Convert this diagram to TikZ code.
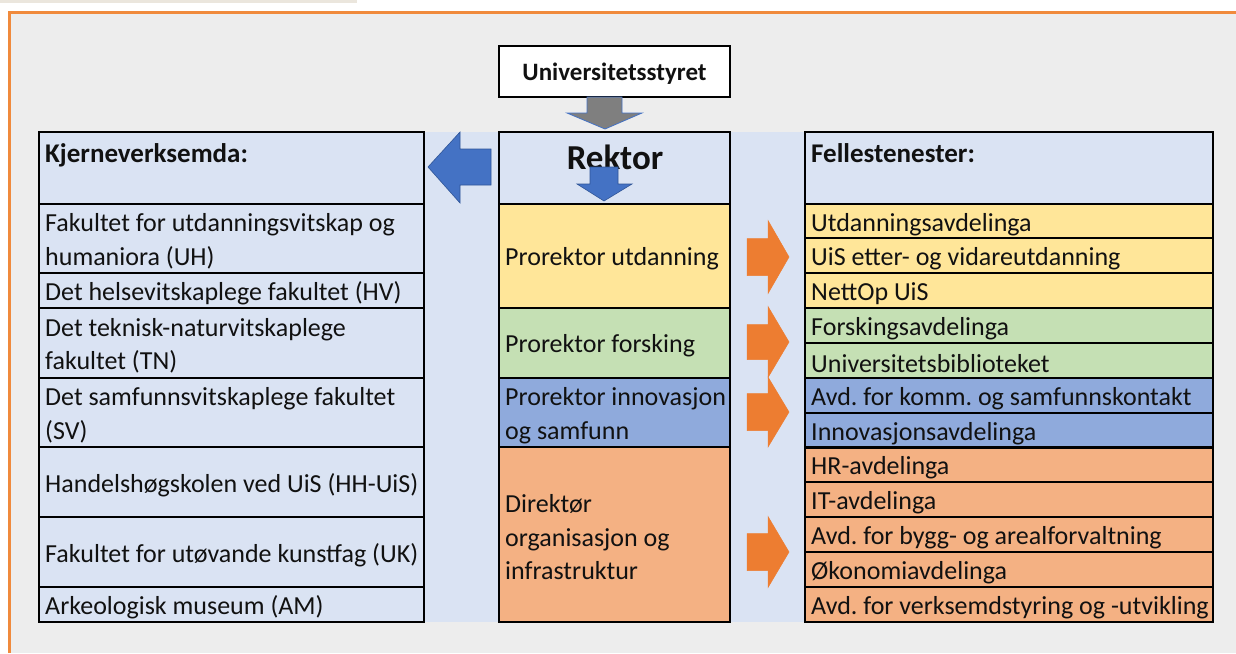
\documentclass[tikz,border=0pt]{standalone}
\usepackage{fontspec}
\setmainfont{Carlito}
\definecolor{bgray}{HTML}{EDEDED}
\definecolor{frameor}{HTML}{F08A3C}
\definecolor{topbeige}{HTML}{EBE6DD}
\definecolor{lblue}{HTML}{DAE3F3}
\definecolor{cyel}{HTML}{FFE699}
\definecolor{cgrn}{HTML}{C5E0B4}
\definecolor{cblu}{HTML}{8FAADC}
\definecolor{cora}{HTML}{F4B183}
\definecolor{aora}{HTML}{ED7D31}
\definecolor{ablu}{HTML}{4472C4}
\definecolor{abluedge}{HTML}{2F5597}
\definecolor{agry}{HTML}{7F7F7F}
\definecolor{txt}{HTML}{111111}
\begin{document}
\begin{tikzpicture}[x=1pt,y=-1pt,
  lbl/.style={anchor=west, inner xsep=6pt, inner ysep=0pt, align=left, text=txt, yshift=-3pt,
    font=\fontsize{26}{33.5}\selectfont,
    execute at begin node={\frenchspacing\spaceskip=0pt\xspaceskip=0pt\relax}},
  cellbase/.style={draw=black, rectangle, anchor=north west, outer sep=0pt, inner sep=0pt},
  tx/.style={label={[lbl]west:{#1}}},
  lcell/.style={cellbase, line width=2.4pt, fill=lblue, minimum width=385pt},
  mcell/.style={cellbase, line width=2.4pt, minimum width=231pt},
  rcell/.style={cellbase, line width=1.5pt, minimum width=408pt, minimum height=35pt},
  grp/.style={draw=black, line width=2.6pt},
  hdr/.style={anchor=base west, inner sep=0pt, text=txt, font=\bfseries\fontsize{27}{30}\selectfont},
  oarrow/.style={fill=aora, draw=aora, line width=0.5pt},
  barrow/.style={fill=ablu, draw=abluedge, line width=0.6pt},
  garrow/.style={fill=agry, draw=ablu, line width=0.8pt}
]
\useasboundingbox (0,0) rectangle (1236,653);
% page background
\fill[white] (0,0) rectangle (1236,653);
\fill[topbeige] (0,0) rectangle (357,3);
\fill[bgray] (9.5,12.5) rectangle (1236,653);
\draw[frameor, line width=2.5pt] (9.5,653) -- (9.5,12.5) -- (1236,12.5);
% light blue band
\fill[lblue] (39,132) rectangle (1213,622);

% top box
\node[cellbase, line width=1.6pt, fill=white, minimum width=231pt, minimum height=51pt, text depth=0pt,
      text=txt, font=\bfseries\fontsize{25}{28}\selectfont] (styret) at (499,46) {Universitetsstyret};

% left column
\node[lcell, minimum height=72pt] (kh) at (39,132) {};
\node[hdr] (kht) at (45,162) {Kjerneverksemda:};
\node[lcell, minimum height=69pt, tx={Fakultet for utdanningsvitskap og\\humaniora (UH)}] (uh) at (39,204) {};
\node[lcell, minimum height=35pt, tx={Det helsevitskaplege fakultet (HV)}] (hv) at (39,273) {};
\node[lcell, minimum height=70pt, tx={Det teknisk-naturvitskaplege\\fakultet (TN)}] (tn) at (39,308) {};
\node[lcell, minimum height=69pt, tx={Det samfunnsvitskaplege fakultet\\(SV)}] (sv) at (39,378) {};
\node[lcell, minimum height=70pt, tx={Handelshøgskolen ved UiS (HH-UiS)}] (hh) at (39,447) {};
\node[lcell, minimum height=70pt, tx={Fakultet for utøvande kunstfag (UK)}] (uk) at (39,517) {};
\node[lcell, minimum height=35pt, tx={Arkeologisk museum (AM)}] (am) at (39,587) {};

% middle column
\node[mcell, fill=lblue, minimum height=72pt] (rektor) at (499,132) {};
\node[anchor=base, inner sep=0pt, text=txt, font=\bfseries\fontsize{35}{38}\selectfont] (rektort) at (615,169) {Rektor};
\node[mcell, fill=cyel, minimum height=104pt, tx={Prorektor utdanning}] (putd) at (499,204) {};
\node[mcell, fill=cgrn, minimum height=70pt, tx={Prorektor forsking}] (pfor) at (499,308) {};
\node[mcell, fill=cblu, minimum height=69pt, tx={Prorektor innovasjon\\og samfunn}] (pinn) at (499,378) {};
\node[mcell, fill=cora, minimum height=175pt, tx={Direktør\\organisasjon og\\infrastruktur}] (dir) at (499,447) {};

% right column
\node[rcell, fill=lblue, line width=2.4pt, minimum height=72pt] (fh) at (805,132) {};
\node[hdr] (fht) at (811,162) {Fellestenester:};
\node[rcell, fill=cyel, tx={Utdanningsavdelinga}] (r1) at (805,204) {};
\node[rcell, fill=cyel, tx={UiS etter- og vidareutdanning}] (r2) at (805,238) {};
\node[rcell, fill=cyel, tx={NettOp UiS}] (r3) at (805,273) {};
\node[rcell, fill=cgrn, tx={Forskingsavdelinga}] (r4) at (805,308) {};
\node[rcell, fill=cgrn, tx={Universitetsbiblioteket}] (r5) at (805,343) {};
\node[rcell, fill=cblu, tx={Avd. for komm. og samfunnskontakt}] (r6) at (805,378) {};
\node[rcell, fill=cblu, tx={Innovasjonsavdelinga}] (r7) at (805,413) {};
\node[rcell, fill=cora, tx={HR-avdelinga}] (r8) at (805,447) {};
\node[rcell, fill=cora, tx={IT-avdelinga}] (r9) at (805,482) {};
\node[rcell, fill=cora, tx={Avd. for bygg- og arealforvaltning}] (r10) at (805,517) {};
\node[rcell, fill=cora, tx={Økonomiavdelinga}] (r11) at (805,552) {};
\node[rcell, fill=cora, tx={Avd. for verksemdstyring og -utvikling}] (r12) at (805,587) {};
\draw[grp] (r1.north west) rectangle (r3.south east);
\draw[grp] (r4.north west) rectangle (r5.south east);
\draw[grp] (r6.north west) rectangle (r7.south east);
\draw[grp] (r8.north west) rectangle (r12.south east);

% block arrows
\draw[garrow] (587,97) -- (622,97) -- (622,113) -- (642,113) -- (605,129) -- (567,113) -- (587,113) -- cycle;
\draw[barrow] (491,149) -- (460,149) -- (460,132) -- (428,167) -- (460,203) -- (460,185) -- (491,185) -- cycle;
\draw[barrow] (590,167) -- (618,167) -- (618,184) -- (632,184) -- (604,201) -- (577,184) -- (590,184) -- cycle;
\foreach \c/\s/\h in {257/18.5/36.5, 342/17.5/35.5, 412/18.5/35, 552/18.5/35.5}{
  \draw[oarrow] (747,\c-\s) -- (768,\c-\s) -- (768,\c-\h) -- (789,\c) -- (768,\c+\h) -- (768,\c+\s) -- (747,\c+\s) -- cycle;
}
\end{tikzpicture}
\end{document}
